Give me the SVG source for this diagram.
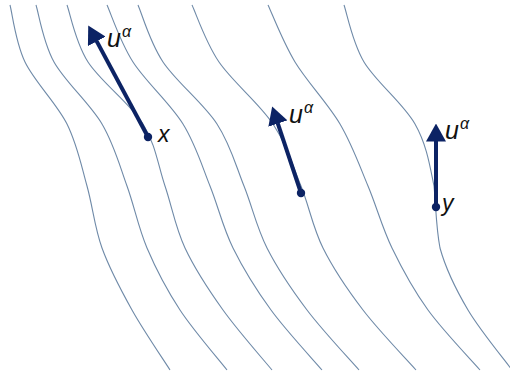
<svg xmlns="http://www.w3.org/2000/svg" width="510" height="374" viewBox="0 0 510 374">
<style>
.fl{fill:none;stroke:#6f8aa8;stroke-width:1.1}
.ar{fill:none;stroke:#0c2364;stroke-width:4}
.dot{fill:#0c2364}
.lb{font-family:"Liberation Sans",Arial,sans-serif;font-style:italic;font-size:23px;fill:#111}
.u{font-size:25px}
.sup{font-size:16px}
</style>
<defs>
<marker id="head" markerUnits="userSpaceOnUse" viewBox="0 0 18 20" markerWidth="18" markerHeight="20" refX="0.5" refY="10" orient="auto">
<path d="M0,0 L18,10 L0,20 z" fill="#0c2364"/>
</marker>
</defs>
<g id="flowlines">
<path class="fl" d="M10,5 C12.5,14.5 15.5,42.2 25,62 C34.5,81.8 56.7,103.3 67,124 C77.3,144.7 81.2,165.3 87,186 C92.8,206.7 94.5,227.3 102,248 C109.5,268.7 120.7,289.7 132,310 C143.3,330.3 163.7,360 170,370"/>
<path class="fl" d="M36,5 C39,14.5 43,42.2 54,62 C65,81.8 89.8,103.3 102,124 C114.2,144.7 119.5,165.3 127,186 C134.5,206.7 138.2,227.3 147,248 C155.8,268.7 166.7,289.7 180,310 C193.3,330.3 219.2,360 227,370"/>
<path class="fl" d="M67,5 C70.5,14.5 75.3,42.2 88,62 C100.7,81.8 130.2,103.3 143,124 C155.8,144.7 158,165.3 165,186 C172,206.7 175.3,227.3 185,248 C194.7,268.7 208.5,289.7 223,310 C237.5,330.3 263.8,360 272,370"/>
<path class="fl" d="M107,5 C111.3,14.5 120.3,42.2 133,62 C145.7,81.8 170.2,103.3 183,124 C195.8,144.7 201.7,165.3 210,186 C218.3,206.7 222.8,227.3 233,248 C243.2,268.7 256.2,289.7 271,310 C285.8,330.3 313.5,360 322,370"/>
<path class="fl" d="M138,5 C142.2,14.5 149.8,42.2 163,62 C176.2,81.8 203.5,103.3 217,124 C230.5,144.7 235.7,165.3 244,186 C252.3,206.7 256.5,227.3 267,248 C277.5,268.7 291.7,289.7 307,310 C322.3,330.3 350.3,360 359,370"/>
<path class="fl" d="M192,5 C196.5,14.5 205.5,42.2 219,62 C232.5,81.8 259.3,103.3 273,124 C286.7,144.7 292.7,165.3 301,186 C309.3,206.7 312.7,227.3 323,248 C333.3,268.7 347.5,289.7 363,310 C378.5,330.3 407.2,360 416,370"/>
<path class="fl" d="M268,5 C272.5,14.5 283,42.2 295,62 C307,81.8 327.8,103.3 340,124 C352.2,144.7 359.3,165.3 368,186 C376.7,206.7 382,227.3 392,248 C402,268.7 413.3,289.7 428,310 C442.7,330.3 471.3,360 480,370"/>
<path class="fl" d="M344,5 C347.3,14.5 352.2,42.2 364,62 C375.8,81.8 403.3,103.3 415,124 C426.7,144.7 429.8,165.3 434,186 C436,206.7 436,227.3 440,248 C445.7,268.7 456,289.7 468,310 C480,330.3 504.7,360 512,370"/>
</g>
<g id="connectors">
<line class="ar" x1="148" y1="137" x2="96.5" y2="40.9" marker-end="url(#head)"/>
<line class="ar" x1="301" y1="193" x2="277.7" y2="123.1" marker-end="url(#head)"/>
<line class="ar" x1="436" y1="207" x2="436" y2="141" marker-end="url(#head)"/>
</g>
<g id="node-x">
<circle class="dot" cx="148" cy="137" r="4.2"/>
<text class="lb" x="158" y="142">x</text>
<text class="lb u" x="107" y="47">u<tspan class="sup" dx="1" dy="-10">α</tspan></text>
</g>
<g id="node-mid">
<circle class="dot" cx="301" cy="193" r="4.2"/>
<text class="lb u" x="289" y="123">u<tspan class="sup" dx="1" dy="-10">α</tspan></text>
</g>
<g id="node-y">
<circle class="dot" cx="436" cy="207" r="4.2"/>
<text class="lb" x="442" y="211">y</text>
<text class="lb u" x="445" y="139">u<tspan class="sup" dx="1" dy="-10">α</tspan></text>
</g>
</svg>
